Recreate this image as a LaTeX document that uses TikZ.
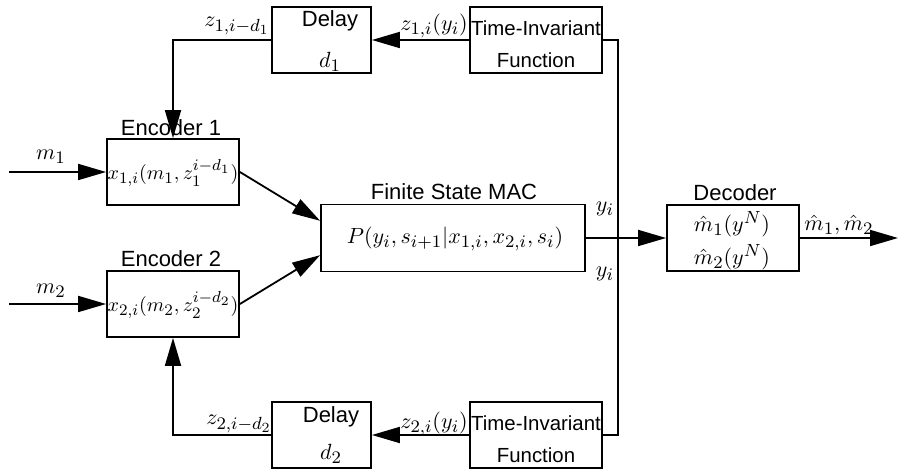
\RequirePackage{fix-cm}
\documentclass[tikz,border=0pt]{standalone}
\usepackage{fontspec}
\newfontfamily\helv{Liberation Sans}
\usetikzlibrary{arrows.meta,calc}
\DeclareMathSizes{11}{11}{8.8}{7}
\DeclareMathSizes{10}{10}{8}{6.4}
\begin{document}
\begin{tikzpicture}[x=0.5pt,y=-0.5pt,
  blk/.style={draw,line width=0.9pt,inner sep=0pt,minimum height=33pt},
  arr/.style={line width=0.9pt,-{Triangle[length=14pt,width=8pt]}},
  ln/.style={line width=0.9pt},
  st/.style={font=\helv\fontsize{11}{13}\selectfont,inner sep=0pt},
  stn/.style={font=\helv\fontsize{10.2}{12}\selectfont,inner sep=0pt},
  mt/.style={font=\fontsize{11}{13}\selectfont,inner sep=0pt},
  mts/.style={font=\fontsize{10}{12}\selectfont,inner sep=0pt}]
\useasboundingbox (0,0) rectangle (899,469);
% boxes
\node[blk,minimum width=49.5pt] (dl1) at (321.5,40) {};
\node[blk,minimum width=66pt] (tf1) at (536,40) {};
\node[blk,minimum width=66pt] (en1) at (173,172) {};
\node[blk,minimum width=66pt] (en2) at (173,304) {};
\node[blk,minimum width=132pt,minimum height=33.5pt] (mac) at (453,238) {};
\node[blk,minimum width=66pt] (dec) at (733,238) {};
\node[blk,minimum width=49.5pt] (dl2) at (321.5,435) {};
\node[blk,minimum width=66pt] (tf2) at (536,435) {};
% box texts
\node[st] (dl1a) at (330,21) {Delay};
\node[mt] (dl1b) at (330,62) {$d_1$};
\node[stn] (tf1a) at (536,28) {Time-Invariant};
\node[stn] (tf1b) at (536,60) {Function};
\node[st] (dl2a) at (331,417) {Delay};
\node[mt] (dl2b) at (331,454) {$d_2$};
\node[stn] (tf2a) at (536,423) {Time-Invariant};
\node[stn] (tf2b) at (536,455) {Function};
\node[mts] (en1t) at (173,173) {$x_{1,i}(m_1,z_1^{i-d_1})$};
\node[mts] (en2t) at (173,305) {$x_{2,i}(m_2,z_2^{i-d_2})$};
\node[mt] (mact) at (455,239) {$P(y_i,s_{i+1}|x_{1,i},x_{2,i},s_i)$};
\node[mt] (dect1) at (732,224) {$\hat{m}_1(y^N)$};
\node[mt] (dect2) at (732,257) {$\hat{m}_2(y^N)$};
% titles
\node[st] (en1l) at (171,128) {Encoder 1};
\node[st] (en2l) at (171,259) {Encoder 2};
\node[st] (macl) at (454,192) {Finite State MAC};
\node[st] (decl) at (735,193) {Decoder};
% connectors
\coordinate (m1s) at (9,172);
\coordinate (m2s) at (9,304);
\coordinate (jn) at (618,238);
\coordinate (out) at (898,238);
\draw[arr] (tf1.west) -- (dl1.east);
\draw[arr] (dl1.west) -| (en1.north);
\draw[arr] (tf2.west) -- (dl2.east);
\draw[arr] (dl2.west) -| (en2.south);
\draw[arr] (m1s) -- (en1.west);
\draw[arr] (m2s) -- (en2.west);
\draw[arr] (en1.east) -- ($(mac.north west)!0.25!(mac.south west)$);
\draw[arr] (en2.east) -- ($(mac.north west)!0.75!(mac.south west)$);
\draw[arr] (mac.east) -- (dec.west);
\draw[ln] (tf1.east) -| (jn) |- (tf2.east);
\draw[arr] (dec.east) -- (out);
% labels
\node[mt] (lz1a) at (237,26) {$z_{1,i-d_1}$};
\node[mt] (lz1b) at (434,26) {$z_{1,i}(y_i)$};
\node[mt] (lz2a) at (239,424) {$z_{2,i-d_2}$};
\node[mt] (lz2b) at (434,424) {$z_{2,i}(y_i)$};
\node[mt] (ly1) at (605,209) {$y_i$};
\node[mt] (ly2) at (605,274) {$y_i$};
\node[mt] (lm1) at (51,157) {$m_1$};
\node[mt] (lm2) at (51,291) {$m_2$};
\node[mt] (lout) at (839,225) {$\hat{m}_1,\hat{m}_2$};
\end{tikzpicture}
\end{document}
